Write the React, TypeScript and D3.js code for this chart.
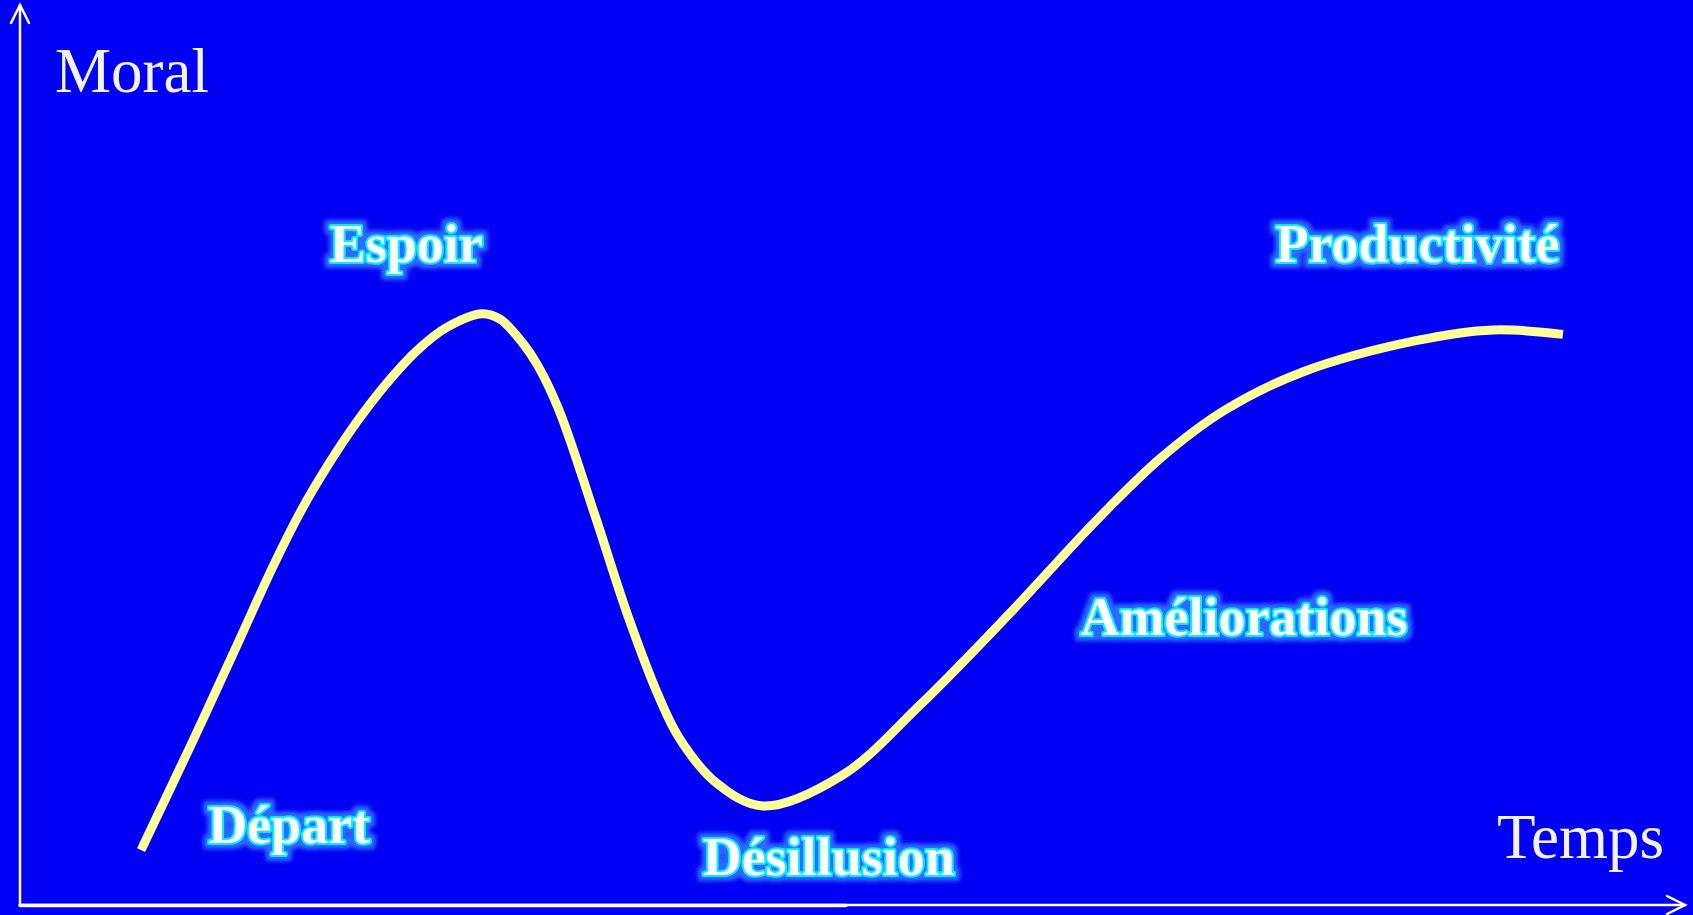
import React from 'react'
import * as d3 from 'd3'

const width = 1693
const height = 915
const bg = '#0000f2'
const curveColor = '#ffff99'
const axisColor = '#ffffff'

// curve: time 0..100 along the x axis, moral 0..100 up the y axis
const time = [7.27, 10.27, 13.09, 15.14, 16.82, 18.44, 20.24, 22.04, 23.84, 25.65, 27.75, 28.83, 30.21, 31.11, 32.37, 34.53, 36.46, 38.38, 39.58, 41.74, 44.62, 49.37, 53.99, 59.34, 64.68, 68.53, 72.37, 77.0, 83.84, 88.47, 92.67]
const moral = [6.1, 17.8, 29.1, 37.4, 43.6, 48.7, 53.7, 58.0, 61.6, 64.2, 65.7, 65.1, 62.4, 59.9, 55.0, 43.3, 32.4, 23.1, 18.6, 13.7, 11.0, 14.4, 22.1, 32.2, 42.8, 49.7, 55.0, 59.2, 62.7, 63.9, 63.4]

// phase labels, position in the same units (left edge of text, baseline)
const phaseLabels = ['Départ', 'Espoir', 'Désillusion', 'Améliorations', 'Productivité']
const phaseTime = [11.3, 18.6, 41.0, 63.7, 75.4]
const phaseMoral = [6.9, 71.4, 3.3, 30.0, 71.4]

const axisLabels = ['Moral', 'Temps']

const x = d3.scaleLinear().domain([0, 100]).range([20, 1685])
const y = d3.scaleLinear().domain([0, 100]).range([905, 5])

export default function App() {
  const points: [number, number][] = time.map((t, i) => [t, moral[i]])
  const line = d3.line<[number, number]>()
    .x(d => x(d[0]))
    .y(d => y(d[1]))
    .curve(d3.curveCatmullRom.alpha(0.5))
  const path = line(points) || ''

  const x0 = x(0)
  const y0 = y(0)
  const xEnd = x(100)
  const yTop = y(100)

  return (
    <svg width={width} height={height}
      style={{ display: 'block', position: 'absolute', left: 0, top: 0 }}>
      <defs>
        <filter id='glow' x='-10%' y='-30%' width='120%' height='160%'>
          <feMorphology in='SourceAlpha' operator='dilate' radius='4' result='fat' />
          <feGaussianBlur in='fat' stdDeviation='2' result='soft' />
          <feFlood floodColor='#2f6bff' result='col' />
          <feComposite in='col' in2='soft' operator='in' result='halo' />
          <feMerge>
            <feMergeNode in='halo' />
            <feMergeNode in='SourceGraphic' />
          </feMerge>
        </filter>
      </defs>
      <rect width={width} height={height} fill={bg} />

      {/* axes */}
      <g stroke={axisColor} strokeWidth={2.5} fill='none' strokeLinecap='round'>
        <line x1={x0} y1={y0} x2={x0} y2={yTop} />
        <line x1={x0} y1={y0} x2={xEnd} y2={y0} />
        <line x1={x0} y1={y0 + 0.5} x2={x(49.6)} y2={y0 + 0.5} strokeWidth={3.5} />
        <polyline points={`${x0 - 9},${yTop + 18} ${x0},${yTop} ${x0 + 9},${yTop + 18}`} />
        <polyline points={`${xEnd - 18},${y0 - 9} ${xEnd},${y0} ${xEnd - 18},${y0 + 9}`} />
      </g>

      <g fill='#f2f2f2' fontFamily='"Liberation Serif", "Times New Roman", serif' fontSize={63}>
        <text x={55} y={92}>{axisLabels[0]}</text>
        <text x={1497} y={858}>{axisLabels[1]}</text>
      </g>

      <path d={path} fill='none' stroke={curveColor} strokeWidth={9} strokeLinecap='butt' />

      <g fontFamily='"Liberation Serif", "Times New Roman", serif' fontWeight='bold' fontSize={54}
        filter='url(#glow)'>
        {phaseLabels.map((d, i) => (
          <text key={i} x={x(phaseTime[i])} y={y(phaseMoral[i])}
            fill='#ffffff' stroke='#00f0ff' strokeWidth={4} paintOrder='stroke'
            strokeLinejoin='round'>
            {d}
          </text>
        ))}
      </g>
    </svg>
  )
}
